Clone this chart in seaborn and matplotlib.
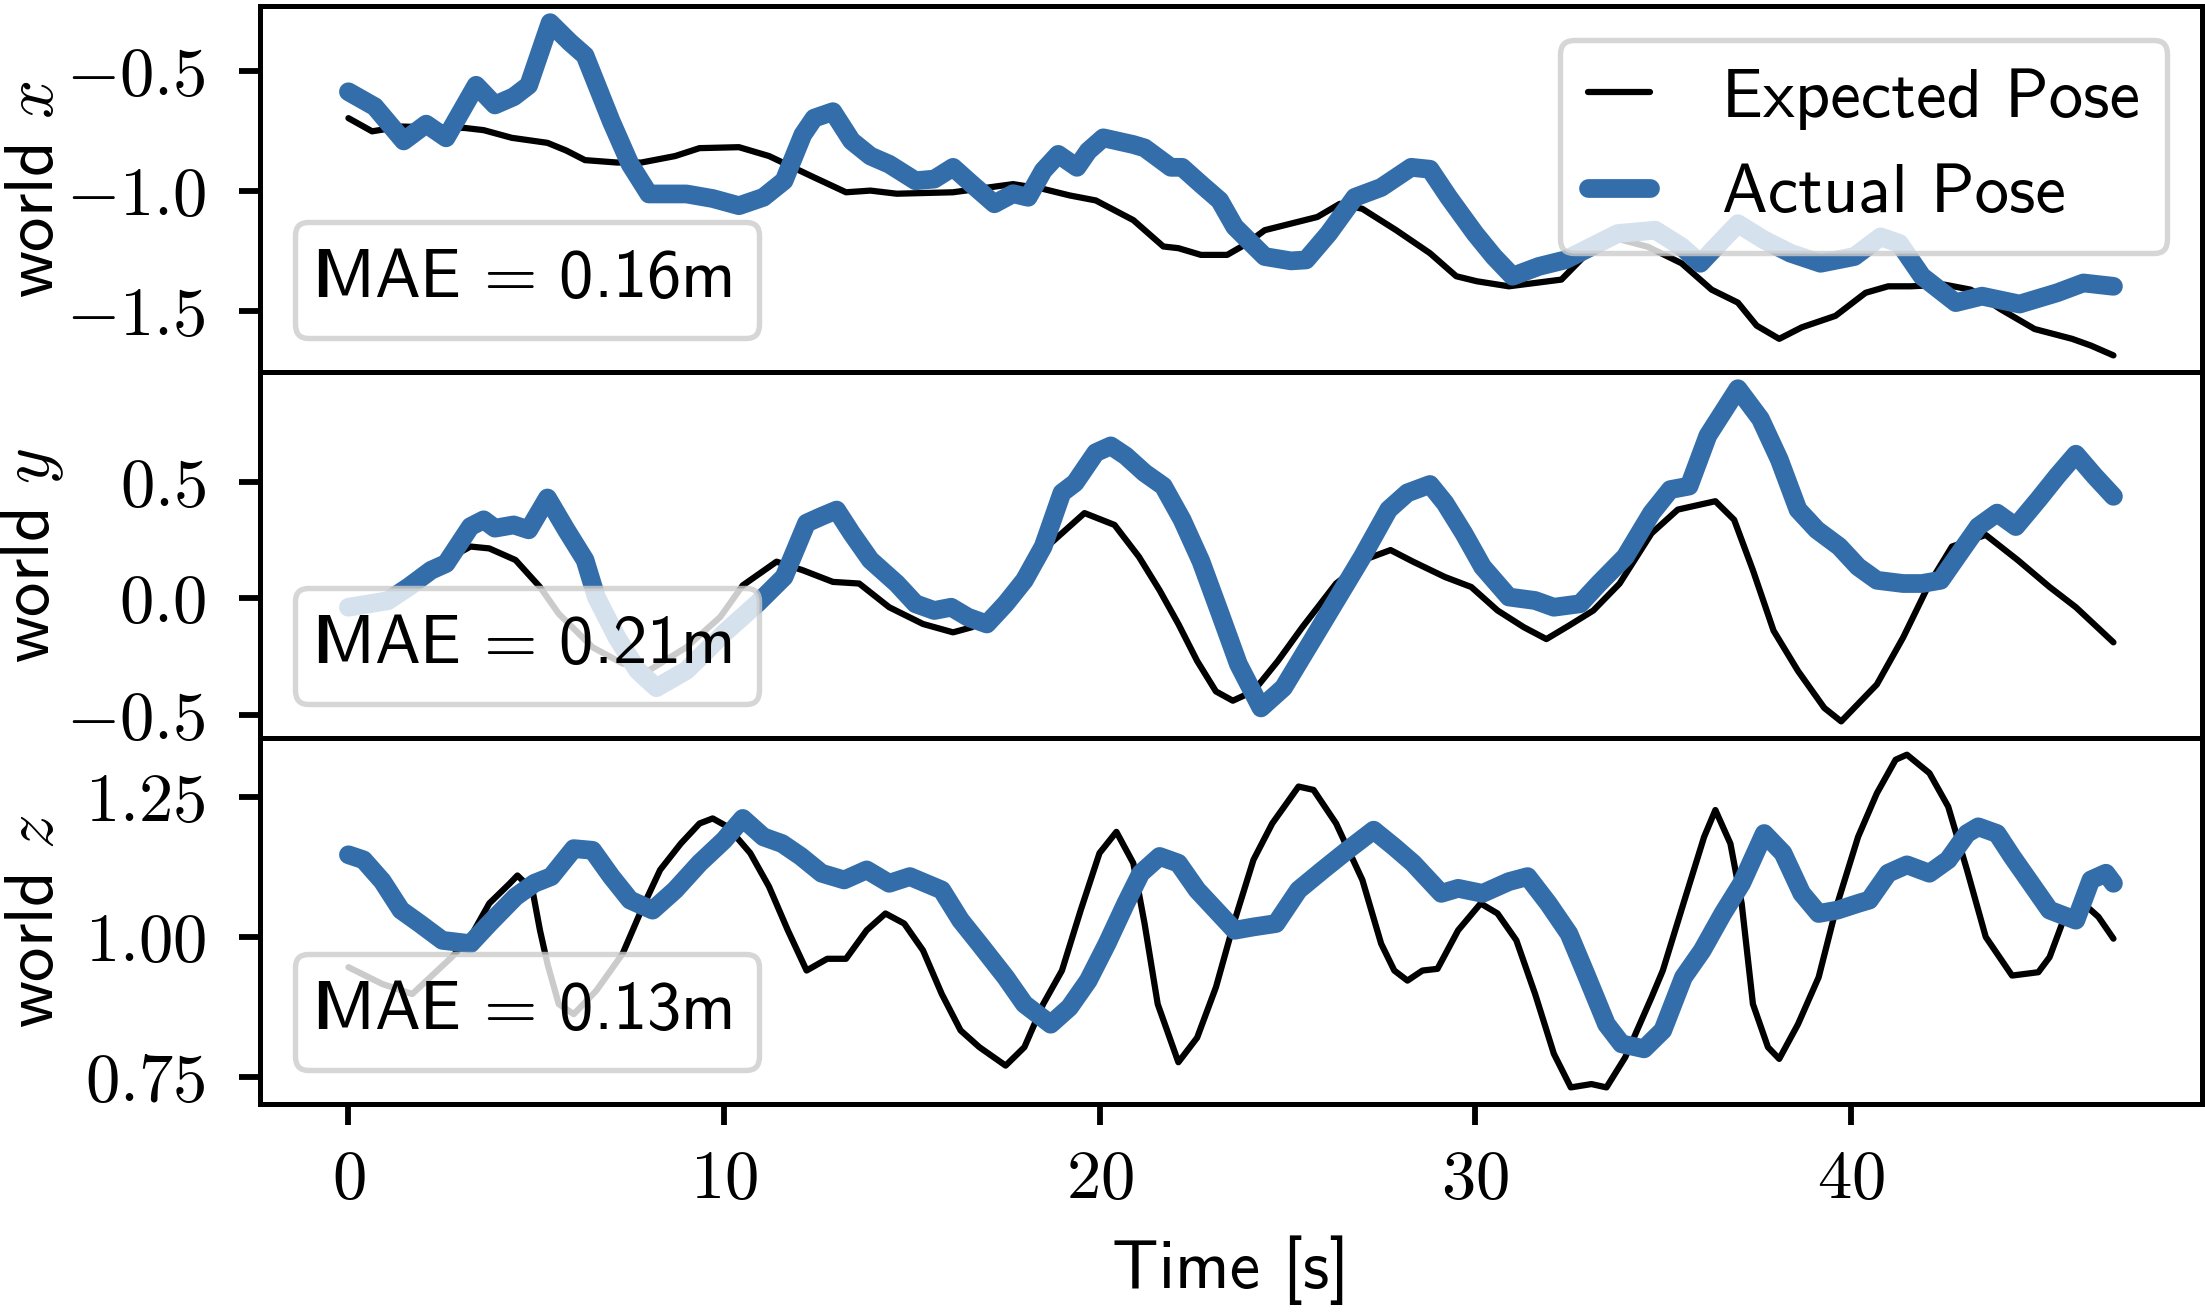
import numpy as np
import pandas as pd
import seaborn as sns
import matplotlib.pyplot as plt
from matplotlib.patches import Rectangle
from matplotlib.ticker import MultipleLocator, FuncFormatter

sns.set_style("ticks", rc={"axes.edgecolor": "black", "xtick.color": "black",
                           "ytick.color": "black", "text.color": "black",
                           "axes.labelcolor": "black"})
plt.rcParams["font.family"] = ["cmss10", "DejaVu Sans"]
plt.rcParams["mathtext.fontset"] = "cm"
plt.rcParams["axes.unicode_minus"] = False
plt.rcParams["font.size"] = 16.5

OUT = "out.png"
BLUE = "#336EAB"
FS = 16.5

# ---- world x ----
x_exp_t = [0, 0.63, 1.4, 3.1, 3.6, 4.35, 5.3, 5.8, 6.3, 7.15,
           7.8, 8.7, 9.35, 10.4, 11.2, 12.4, 13.25, 13.9, 14.6, 16.1,
           17.7, 18.5, 19.2, 19.9, 20.9, 21.7, 22.1, 22.7, 23.4, 23.9,
           24.4, 25.8, 26.4, 27.0, 27.9, 28.8, 29.5, 30.05, 30.9, 32.3,
           32.9, 33.6, 34.6, 35.5, 36.3, 37.0, 37.5, 38.1, 38.7, 39.6,
           40.4, 41.0, 41.6, 42.5, 43.2, 44.0, 44.9, 45.9, 46.4, 47.0]
x_exp = [-0.695, -0.75, -0.73, -0.736, -0.745, -0.777, -0.798, -0.83, -0.87, -0.88,
         -0.88, -0.853, -0.82, -0.816, -0.853, -0.942, -1.004, -0.997, -1.01, -1.004,
         -0.97, -0.99, -1.017, -1.038, -1.12, -1.23, -1.237, -1.265, -1.265, -1.22,
         -1.162, -1.107, -1.052, -1.073, -1.162, -1.258, -1.354, -1.375, -1.396, -1.368,
         -1.272, -1.19, -1.231, -1.3, -1.41, -1.464, -1.56, -1.615, -1.567, -1.519,
         -1.423, -1.396, -1.396, -1.389, -1.41, -1.492, -1.574, -1.615, -1.643, -1.684]
x_act_t = [0, 0.7, 1.47, 2.07, 2.6, 3.4, 3.9, 4.4, 4.8, 5.37,
           5.9, 6.3, 7.0, 7.5, 8.0, 9.0, 9.7, 10.4, 11.05, 11.6,
           12.1, 12.4, 12.9, 13.4, 13.9, 14.4, 15.1, 15.6, 16.1, 16.6,
           17.2, 17.7, 18.1, 18.5, 18.9, 19.4, 19.7, 20.1, 20.9, 21.2,
           21.9, 22.2, 22.7, 23.2, 23.6, 24.4, 25.1, 25.5, 26.1, 26.8,
           27.5, 28.3, 28.8, 29.3, 30.0, 30.5, 31.0, 31.7, 32.4, 33.1,
           33.8, 34.8, 35.5, 36.0, 36.5, 37.0, 37.7, 38.4, 39.2, 40.1,
           40.8, 41.3, 41.9, 42.8, 43.5, 44.5, 45.5, 46.2, 47.0]
x_act = [-0.585, -0.647, -0.79, -0.72, -0.777, -0.558, -0.64, -0.606, -0.558, -0.297,
         -0.379, -0.434, -0.709, -0.887, -1.011, -1.011, -1.03, -1.06, -1.025, -0.956,
         -0.764, -0.695, -0.668, -0.79, -0.853, -0.887, -0.956, -0.949, -0.9, -0.97,
         -1.052, -1.01, -1.025, -0.914, -0.846, -0.9, -0.832, -0.777, -0.805, -0.819,
         -0.9, -0.9, -0.97, -1.038, -1.148, -1.272, -1.29, -1.286, -1.176, -1.025,
         -0.984, -0.9, -0.908, -1.025, -1.176, -1.272, -1.354, -1.313, -1.286, -1.231,
         -1.176, -1.162, -1.231, -1.3, -1.217, -1.135, -1.203, -1.258, -1.3, -1.272,
         -1.19, -1.217, -1.354, -1.464, -1.437, -1.47, -1.423, -1.382, -1.396]

# ---- world y ----
y_exp_t = [0, 0.9, 1.7, 2.6, 3.25, 3.75, 4.45, 5.1, 5.6, 6.5,
           7.3, 8.0, 9.0, 9.9, 10.5, 11.4, 12.1, 12.9, 13.6, 14.4,
           15.3, 16.1, 16.6, 17.0, 17.8, 18.7, 19.6, 20.4, 21.05, 21.6,
           22.1, 22.6, 23.1, 23.55, 24.1, 24.75, 25.4, 26.3, 27.15, 27.75,
           28.35, 29.2, 29.9, 30.6, 31.3, 31.9, 32.5, 33.15, 33.85, 34.7,
           35.4, 36.4, 36.9, 37.4, 37.95, 38.6, 39.3, 39.75, 40.7, 41.4,
           42.1, 42.7, 43.6, 44.45, 45.3, 46.0, 47.0]
y_exp = [-0.02, -0.01, 0.064, 0.165, 0.223, 0.215, 0.165, 0.049, -0.066, -0.21,
         -0.28, -0.31, -0.21, -0.08, 0.056, 0.158, 0.121, 0.071, 0.064, -0.038,
         -0.11, -0.146, -0.124, -0.081, 0.064, 0.237, 0.367, 0.316, 0.179, 0.035,
         -0.11, -0.269, -0.4, -0.44, -0.399, -0.269, -0.124, 0.064, 0.172, 0.208,
         0.158, 0.092, 0.049, -0.052, -0.124, -0.175, -0.117, -0.052, 0.064, 0.28,
         0.382, 0.418, 0.338, 0.121, -0.139, -0.312, -0.471, -0.529, -0.37, -0.168,
         0.064, 0.223, 0.273, 0.165, 0.049, -0.038, -0.189]
y_act_t = [0, 1.05, 1.6, 2.2, 2.6, 3.25, 3.6, 3.9, 4.4, 4.8,
           5.3, 5.8, 6.3, 6.6, 7.15, 7.7, 8.2, 9.0, 10.0, 10.9,
           11.6, 12.2, 12.6, 13.0, 13.4, 13.9, 14.6, 15.1, 15.6, 16.05,
           16.5, 17.0, 17.5, 18.0, 18.5, 19.0, 19.35, 19.9, 20.3, 20.7,
           21.2, 21.7, 22.2, 22.7, 23.2, 23.7, 24.3, 24.9, 25.6, 26.3,
           27.0, 27.7, 28.2, 28.8, 29.2, 29.7, 30.2, 30.9, 31.6, 32.1,
           32.8, 33.3, 34.0, 34.7, 35.2, 35.7, 36.2, 37.0, 37.6, 38.1,
           38.6, 39.1, 39.7, 40.2, 40.7, 41.4, 41.9, 42.4, 42.9, 43.4,
           43.9, 44.4, 45.0, 45.5, 46.0, 46.5, 47.0]
y_act = [-0.038, -0.01, 0.049, 0.121, 0.15, 0.309, 0.338, 0.302, 0.316, 0.295,
         0.432, 0.295, 0.165, 0.006, -0.168, -0.31, -0.384, -0.31, -0.15, -0.02,
         0.092, 0.324, 0.353, 0.38, 0.28, 0.165, 0.064, -0.023, -0.052, -0.038,
         -0.081, -0.11, -0.023, 0.078, 0.223, 0.454, 0.497, 0.627, 0.656, 0.613,
         0.54, 0.483, 0.338, 0.16, -0.06, -0.283, -0.471, -0.384, -0.197, -0.009,
         0.179, 0.382, 0.454, 0.49, 0.41, 0.28, 0.136, 0.006, -0.009, -0.038,
         -0.023, 0.064, 0.179, 0.367, 0.468, 0.483, 0.7, 0.902, 0.772, 0.598,
         0.382, 0.295, 0.223, 0.136, 0.078, 0.064, 0.064, 0.078, 0.194, 0.309,
         0.367, 0.309, 0.425, 0.526, 0.62, 0.526, 0.439]

# ---- world z ----
z_exp_t = [0, 0.9, 1.7, 2.75, 3.25, 3.75, 4.3, 4.5, 4.9, 5.1,
           5.3, 5.6, 6.0, 6.6, 7.3, 7.8, 8.3, 8.85, 9.35, 9.7,
           10.1, 10.7, 11.2, 11.7, 12.2, 12.75, 13.25, 13.8, 14.3, 14.8,
           15.3, 15.8, 16.3, 16.8, 17.5, 18.0, 18.5, 19.0, 19.5, 20.0,
           20.45, 20.9, 21.2, 21.55, 22.1, 22.6, 23.1, 23.6, 24.1, 24.6,
           25.3, 25.7, 26.3, 27.0, 27.5, 27.85, 28.2, 28.6, 29.0, 29.55,
           30.15, 30.6, 31.1, 31.6, 32.1, 32.55, 33.1, 33.5, 34.0, 34.7,
           35.0, 35.55, 36.1, 36.4, 36.8, 37.1, 37.4, 37.8, 38.1, 38.6,
           39.15, 39.65, 40.2, 40.7, 41.2, 41.5, 42.1, 42.6, 43.1, 43.6,
           44.3, 45.0, 45.3, 45.7, 46.2, 46.6, 47.0]
z_exp = [0.946, 0.916, 0.898, 0.964, 1.0, 1.06, 1.096, 1.11, 1.084, 1.012,
         0.952, 0.88, 0.862, 0.904, 0.97, 1.048, 1.12, 1.167, 1.203, 1.212,
         1.197, 1.15, 1.09, 1.012, 0.94, 0.961, 0.961, 1.012, 1.042, 1.024,
         0.976, 0.898, 0.833, 0.803, 0.77, 0.803, 0.88, 0.94, 1.048, 1.15,
         1.188, 1.132, 1.024, 0.88, 0.776, 0.82, 0.91, 1.03, 1.138, 1.203,
         1.269, 1.263, 1.203, 1.102, 0.988, 0.94, 0.922, 0.94, 0.943, 1.012,
         1.06, 1.042, 0.994, 0.898, 0.791, 0.731, 0.737, 0.731, 0.785, 0.892,
         0.94, 1.06, 1.179, 1.227, 1.167, 1.06, 0.88, 0.803, 0.782, 0.844,
         0.928, 1.06, 1.179, 1.257, 1.317, 1.326, 1.293, 1.233, 1.12, 1.0,
         0.931, 0.937, 0.964, 1.036, 1.06, 1.036, 0.997]
z_act_t = [0, 0.4, 0.9, 1.4, 1.9, 2.5, 3.25, 3.75, 4.45, 4.95,
           5.4, 6.0, 6.5, 7.0, 7.5, 8.1, 8.7, 9.35, 10.0, 10.5,
           11.05, 11.55, 12.05, 12.6, 13.2, 13.8, 14.4, 14.95, 15.8, 16.3,
           16.8, 17.5, 18.0, 18.7, 19.2, 19.7, 20.2, 20.7, 21.1, 21.6,
           22.1, 22.6, 23.1, 23.6, 24.1, 24.7, 25.3, 25.95, 26.6, 27.3,
           27.85, 28.35, 29.1, 29.55, 30.2, 30.9, 31.4, 31.95, 32.5, 32.95,
           33.5, 33.9, 34.5, 35.0, 35.55, 36.05, 36.6, 37.1, 37.7, 38.2,
           38.7, 39.15, 39.65, 40.2, 40.5, 41.0, 41.5, 42.1, 42.6, 43.1,
           43.4, 43.9, 44.3, 44.8, 45.3, 46.0, 46.4, 46.8, 47.0]
z_act = [1.147, 1.138, 1.1, 1.048, 1.024, 0.994, 0.988, 1.024, 1.072, 1.096,
         1.108, 1.158, 1.155, 1.108, 1.066, 1.048, 1.084, 1.132, 1.173, 1.212,
         1.179, 1.167, 1.144, 1.114, 1.102, 1.12, 1.096, 1.108, 1.084, 1.03,
         0.988, 0.928, 0.88, 0.844, 0.874, 0.922, 0.988, 1.06, 1.114, 1.144,
         1.132, 1.084, 1.048, 1.012, 1.018, 1.024, 1.084, 1.12, 1.155, 1.191,
         1.161, 1.132, 1.078, 1.087, 1.078, 1.099, 1.108, 1.06, 1.006, 0.934,
         0.844, 0.809, 0.8, 0.833, 0.928, 0.976, 1.042, 1.096, 1.185, 1.15,
         1.078, 1.042, 1.048, 1.06, 1.066, 1.114, 1.129, 1.114, 1.138, 1.185,
         1.197, 1.185, 1.144, 1.096, 1.048, 1.03, 1.102, 1.114, 1.096]

axis_names = ["x", "y", "z"]
mae_labels = ["0.16", "0.21", "0.13"]
ytick_steps = [0.5, 0.5, 0.25]
ytick_fmt = ["{:.1f}", "{:.1f}", "{:.2f}"]


def mae_box(ax, mae):
    # legend with a zero-width patch handle (leaves the little bar before "MAE")
    h = Rectangle((0, 0), 1, 1, fill=False, edgecolor="black", linewidth=1.5)
    leg = ax.legend([h], [r"MAE$\,=\,$" + mae + "m"], loc="lower left",
                    handlelength=0, handletextpad=-0.12, fontsize=FS)
    leg.get_frame().set_linewidth(1.3)
    return leg


def main():
    series = [(x_exp_t, x_exp, x_act_t, x_act),
              (y_exp_t, y_exp, y_act_t, y_act),
              (z_exp_t, z_exp, z_act_t, z_act)]
    fig, axes = plt.subplots(3, 1, sharex=True, figsize=(7.35, 1312 / 300), dpi=300)
    fig.subplots_adjust(left=0.118, right=0.9985, top=0.9954, bottom=0.1585, hspace=0)

    for i, (ax, (te, ve, ta, va)) in enumerate(zip(axes, series)):
        exp = pd.DataFrame({"t": te, "v": ve})
        act = pd.DataFrame({"t": ta, "v": va})
        sns.lineplot(data=exp, x="t", y="v", color="black", linewidth=1.5,
                     estimator=None, sort=False, ax=ax)
        sns.lineplot(data=act, x="t", y="v", color=BLUE, linewidth=4.5,
                     estimator=None, sort=False, ax=ax)
        for ln in ax.get_lines():
            ln.set_solid_joinstyle("round")

        ax.set_ylabel(f"world ${axis_names[i]}$", fontsize=FS, labelpad=0)
        ax.set_xlabel("")
        ax.yaxis.set_major_locator(MultipleLocator(ytick_steps[i]))
        fmt = ytick_fmt[i]
        ax.yaxis.set_major_formatter(FuncFormatter(lambda v, p, f=fmt: "$" + f.format(v) + "$"))
        ax.tick_params(length=5, width=1.4, labelsize=FS)
        ax.tick_params(axis="y", pad=8)
        ax.tick_params(axis="x", pad=6)
        for sp in ax.spines.values():
            sp.set_linewidth(1.2)
        if i < 2:
            ax.tick_params(axis="x", bottom=False)

        leg = mae_box(ax, mae_labels[i])
        if i == 0:
            ax.add_artist(leg)
            lines = ax.get_lines()
            main_leg = ax.legend(handles=[lines[0], lines[1]],
                                 labels=["Expected Pose", "Actual Pose"],
                                 loc="upper right", handlelength=0.9,
                                 handletextpad=1.05, fontsize=FS)
            main_leg.get_frame().set_linewidth(1.3)

    ax = axes[-1]
    ax.xaxis.set_major_locator(MultipleLocator(10))
    ax.xaxis.set_major_formatter(FuncFormatter(lambda v, p: f"${v:.0f}$"))
    ax.set_xlabel("Time [s]", fontsize=FS, labelpad=6)

    fig.align_ylabels(axes)
    fig.savefig(OUT, dpi=300)
    plt.close(fig)


if __name__ == "__main__":
    main()
